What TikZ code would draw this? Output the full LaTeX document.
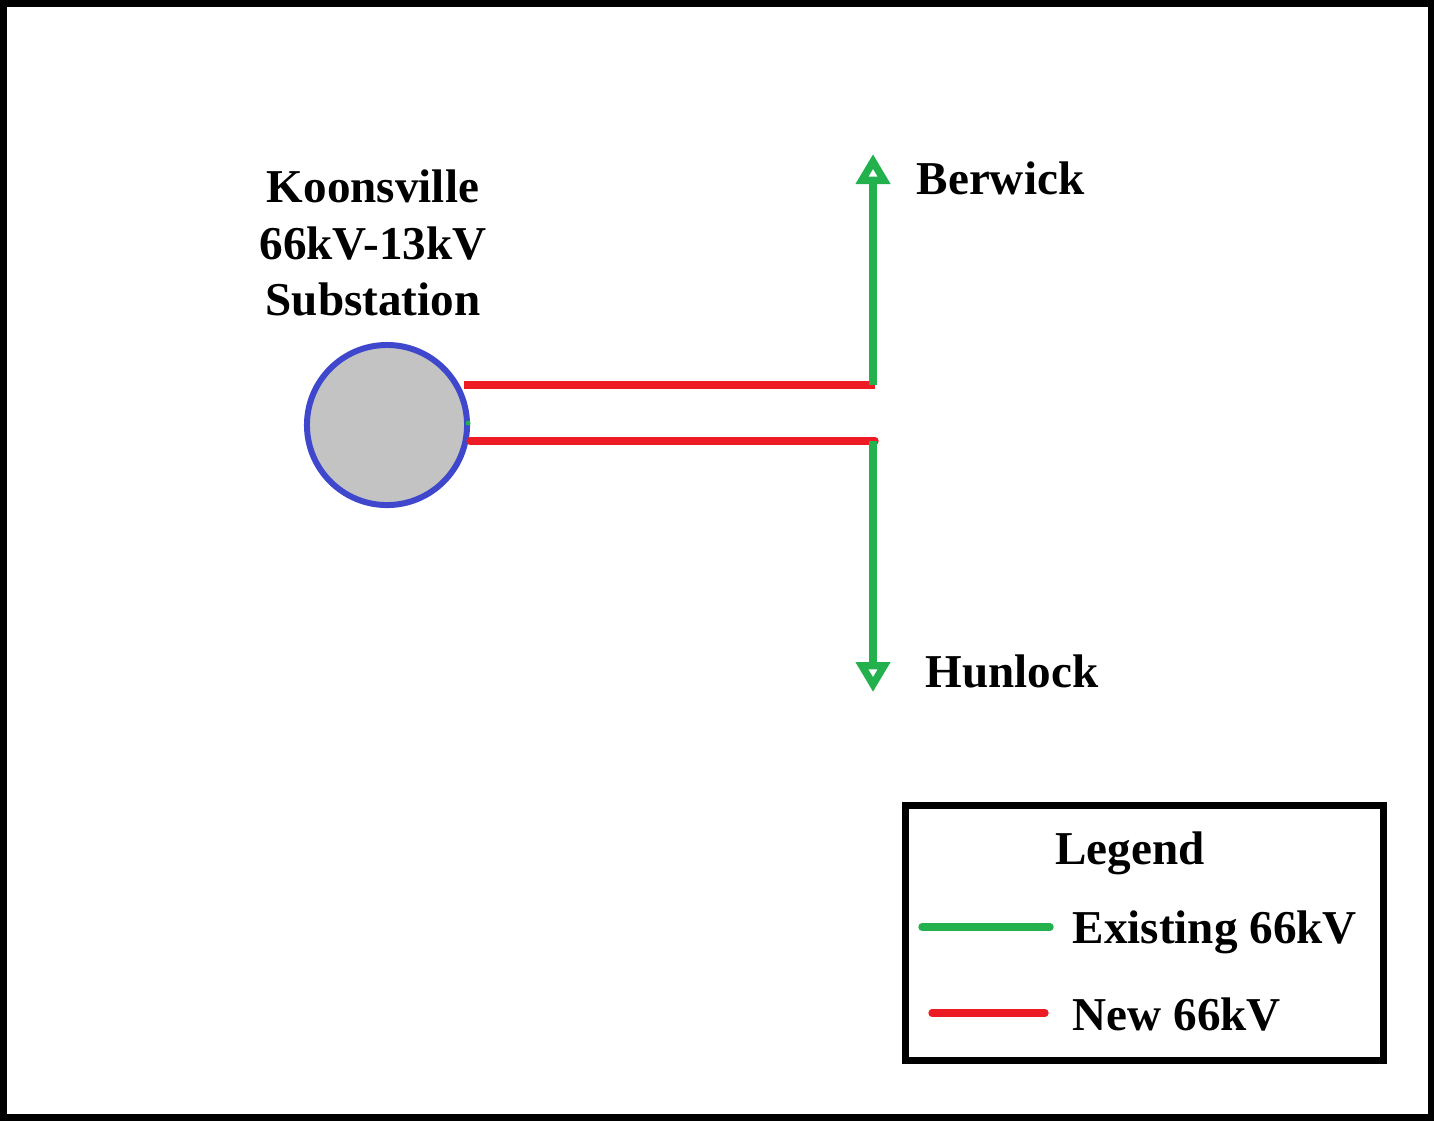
\documentclass[tikz,border=0pt]{standalone}
\usepackage{fontspec}
\setmainfont{Liberation Serif}
\usetikzlibrary{arrows.meta,positioning}
\definecolor{paintgreen}{RGB}{34,177,76}
\definecolor{paintred}{RGB}{237,28,36}
\definecolor{paintblue}{RGB}{63,72,204}
\definecolor{paintgray}{RGB}{195,195,195}
\tikzset{
	oldline/.style={paintgreen, line width=2.1pt},
	newline/.style={paintred, line width=2.1pt},
	place/.style={font=\fontsize{13.4}{16}\selectfont\bfseries, inner sep=0pt},
	feeder/.style={-{Triangle[open, length=0.3cm, width=0.33cm, line width=2.1pt]}}
}
\begin{document}
\begin{tikzpicture}[x=0.01cm, y=-0.01cm]
	\useasboundingbox (0,0) rectangle (1434,1120);
	\draw[line width=2pt] (3,3) rectangle (1431,1117);
	
	\node[draw=paintblue, fill=paintgray, circle, line width=1.7pt, minimum size=1.6cm] (sub) at (387,425) {};
	\node[place, align=center] (subname) at (373,243) {Koonsville\\66kV-13kV\\Substation};
	\fill[paintgreen] (468,423) circle (0.025cm);
	
	\coordinate (jtop) at (875,385);
	\coordinate (jbot) at (875,441);
	\coordinate (btip) at (873,154);
	\coordinate (htip) at (873,692);
	\node[place, anchor=west] (berwick) at (916,178) {Berwick};
	\node[place, anchor=west] (hunlock) at (925,671) {Hunlock};
	
	\draw[newline] ([xshift=-0.06cm]jtop -| sub.east) -- (jtop);
	\draw[newline, line cap=round] (jbot -| sub.east) -- (jbot);
	\draw[oldline, feeder] (873,385) -- (btip);
	\draw[oldline, feeder] (873,441) -- (htip);
	
	% legend
	\draw[line width=2pt] (905,805) rectangle (1383,1060);
	\node[place] (legend) at (1130,853) {Legend};
	\draw[oldline, line cap=round] (922,927) -- (1050,927);
	\draw[newline, line cap=round] (932,1013) -- (1045,1013);
	\node[place, anchor=west] (existing) at (1072,932) {Existing 66kV};
	\node[place, anchor=west] (new) at (1072,1014) {New 66kV};
\end{tikzpicture}
\end{document}
